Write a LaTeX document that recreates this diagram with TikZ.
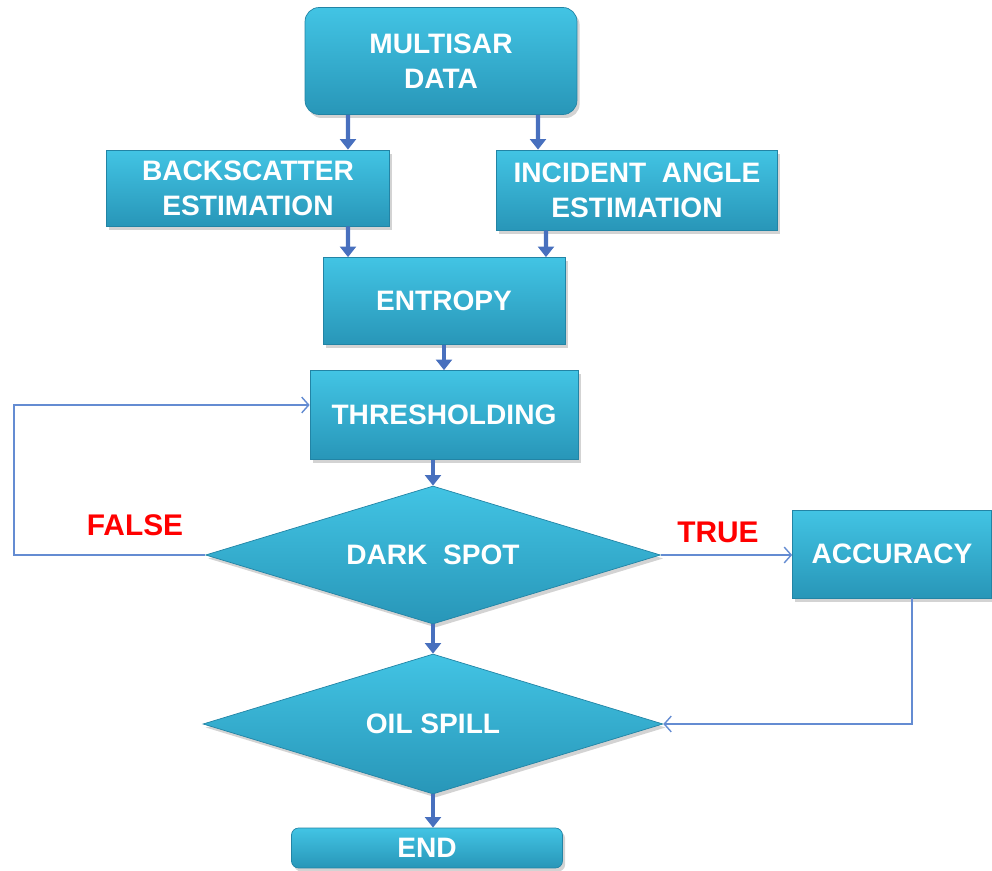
\documentclass[tikz,border=0pt]{standalone}
\usepackage{fontspec}
\setmainfont{Liberation Sans}
\usepackage{tikz}
\usetikzlibrary{arrows.meta, positioning, shapes.geometric, shadows}
\definecolor{boxtop}{RGB}{66, 196, 228}
\definecolor{boxbot}{RGB}{40, 150, 184}
\definecolor{boxedge}{RGB}{34, 132, 165}
\definecolor{flowblue}{RGB}{72, 112, 190}
\definecolor{loopblue}{RGB}{100, 140, 210}

\begin{document}
\begin{tikzpicture}[x={(0.02cm,0cm)}, y={(0cm,-0.02cm)},
    procbox/.style={rectangle, draw=boxedge, line width=0.4pt, top color=boxtop, bottom color=boxbot,
        text=white, font=\fontsize{16}{20}\selectfont\bfseries, align=center, inner sep=2pt,
        drop shadow={shadow xshift=1.5pt, shadow yshift=-2pt, opacity=0.35}},
    decbox/.style={diamond, aspect=3.3, draw=boxedge, line width=0.4pt, top color=boxtop, bottom color=boxbot,
        text=white, font=\fontsize{16}{20}\selectfont\bfseries, inner sep=0pt,
        drop shadow={shadow xshift=1.5pt, shadow yshift=-2pt, opacity=0.35}},
    flow/.style={-{Triangle[width=9pt, length=6pt]}, line width=2.3pt, flowblue},
    loopline/.style={-{Straight Barb[length=4pt, width=9pt]}, line width=0.8pt, loopblue},
    verdict/.style={text=red, font=\fontsize{17}{20}\selectfont\bfseries}]
    \useasboundingbox (0,0) rectangle (992,871);
    % boxes
    \node[procbox, rounded corners=8pt, minimum width=5.44cm, minimum height=2.14cm] (data) at (441,61) {MULTISAR\\DATA};
    \node[procbox, minimum width=5.66cm, minimum height=1.52cm] (back) at (248,188) {BACKSCATTER\\ESTIMATION};
    \node[procbox, minimum width=5.62cm, minimum height=1.6cm] (angle) at (637,190) {INCIDENT\ \ ANGLE\\ESTIMATION};
    \node[procbox, minimum width=4.84cm, minimum height=1.74cm] (entropy) at (444,301) {ENTROPY};
    \node[procbox, minimum width=5.36cm, minimum height=1.78cm] (thresh) at (444,415) {THRESHOLDING};
    \node[decbox, minimum width=9.1cm, minimum height=2.76cm] (dark) at (433,555) {DARK\ \ SPOT};
    \node[procbox, minimum width=3.98cm, minimum height=1.76cm] (acc) at (892,554) {ACCURACY};
    \node[decbox, minimum width=9.2cm, minimum height=2.8cm] (oil) at (433,724) {OIL SPILL};
    \node[procbox, rounded corners=4pt, minimum width=5.42cm, minimum height=0.8cm] (end) at (427,848) {END};
    % labels
    \node[verdict] (false) at (135,525) {FALSE};
    \node[verdict] (true) at (718,532) {TRUE};
    % main flow
    \draw[flow] ([xshift=-1.86cm]data.south) -- ([xshift=2cm]back.north);
    \draw[flow] ([xshift=1.94cm]data.south) -- ([xshift=-1.98cm]angle.north);
    \draw[flow] ([xshift=2cm]back.south) -- ([xshift=-1.92cm]entropy.north);
    \draw[flow] ([xshift=-1.82cm]angle.south) -- ([xshift=2.04cm]entropy.north);
    \draw[flow] (entropy.south) -- (thresh.north);
    \draw[flow] (thresh.south -| dark.north) -- (dark.north);
    \draw[flow] (dark.south) -- (oil.north);
    \draw[flow] (oil.south) -- (oil.south |- end.north);
    % branches
    \draw[loopline] (dark.west) -- ++(-191,0) |- ([yshift=0.2cm]thresh.west);
    \draw[loopline] (dark.east) -- (dark.east -| acc.west);
    \draw[loopline] ([xshift=0.4cm]acc.south) |- (oil.east);
\end{tikzpicture}
\end{document}
